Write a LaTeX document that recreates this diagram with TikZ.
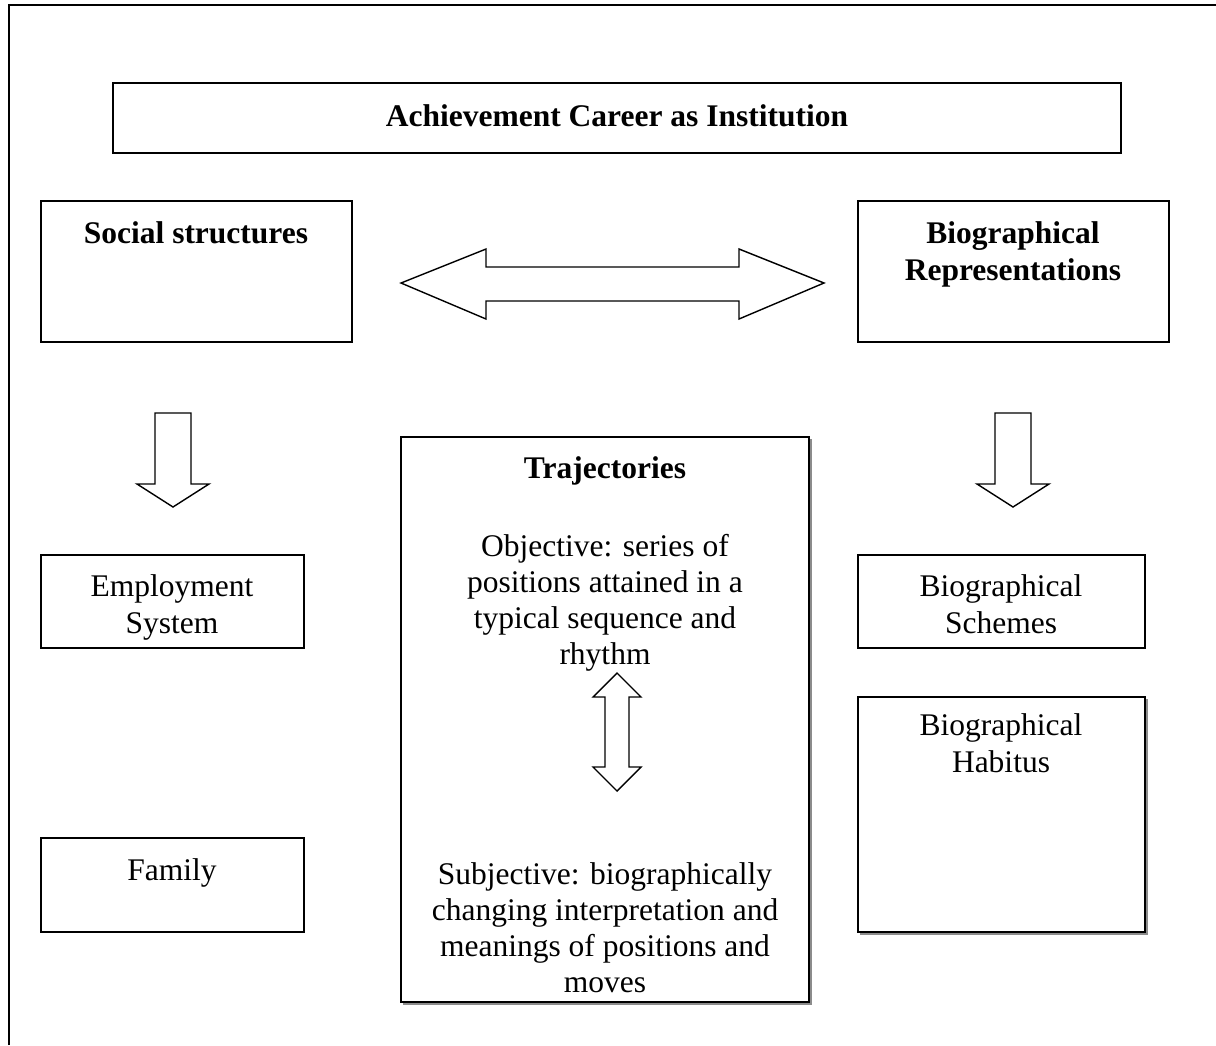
\documentclass[tikz,border=0pt]{standalone}
\usepackage{fontspec}
\setmainfont{Liberation Serif}
\usetikzlibrary{positioning}

\begin{document}
\begin{tikzpicture}[x=1pt,y=-1pt,font=\fontsize{31.5}{37}\selectfont,
  lbl/.style={align=center,anchor=north,inner sep=0pt},
  tight/.style={font=\fontsize{31.5}{36}\selectfont},
  box/.style={line width=1.4pt},
  shade/.style={line width=1.2pt,black!45},
  blk/.style={line width=1.4pt,fill=white,line join=miter}]
\useasboundingbox (0,0) rectangle (1216,1045);
% outer frame
\draw[line width=2pt] (9,1045)--(9,5)--(1216,5);
% boxes
\draw[box] (113,83) rectangle (1121,153);
\draw[box] (41,201) rectangle (352,342);
\draw[box] (858,201) rectangle (1169,342);
\draw[box] (41,555) rectangle (304,648);
\draw[box] (41,838) rectangle (304,932);
\draw[shade] (403,1004)--(811,1004)--(811,439);
\draw[box] (401,437) rectangle (809,1002);
\draw[box] (858,555) rectangle (1145,648);
\draw[shade] (860,934)--(1147,934)--(1147,699);
\draw[box] (858,697) rectangle (1145,932);
% block arrows
\draw[blk] (401,283)--(486,249)--(486,267)--(739,267)--(739,249)--(824,283)--(739,319)--(739,301)--(486,301)--(486,319)--cycle;
\foreach \x in {173,1013}{
  \draw[blk] (\x-18,413)--(\x+18,413)--(\x+18,484)--(\x+36,484)--(\x,507)--(\x-36,484)--(\x-18,484)--cycle;}
\draw[blk] (617,673)--(641,697)--(629,697)--(629,767)--(641,767)--(617,791)--(593,767)--(605,767)--(605,697)--(593,697)--cycle;
% labels
\node[lbl,font=\fontsize{31.5}{37}\selectfont\bfseries] (title) at (617,100) {\strut Achievement Career as Institution};
\node[lbl,font=\fontsize{31.5}{37}\selectfont\bfseries] (social) at (196,217) {\strut Social structures};
\node[lbl,font=\fontsize{31.5}{37}\selectfont\bfseries] (biorep) at (1013,217) {\strut Biographical\\Representations};
\node[lbl] (employ) at (172,570) {\strut Employment\\System};
\node[lbl] (family) at (172,854) {\strut Family};
\node[lbl] (schemes) at (1001,570) {\strut Biographical\\Schemes};
\node[lbl] (habitus) at (1001,709) {\strut Biographical\\Habitus};
\node[lbl,font=\fontsize{31.5}{37}\selectfont\bfseries] (traj) at (605,452) {\strut Trajectories};
\node[lbl,tight] (objective) at (605,531) {\strut Objective: series of\\positions attained in a\\typical sequence and\\rhythm};
\node[lbl,tight] (subjective) at (605,859) {\strut Subjective: biographically\\changing interpretation and\\meanings of positions and\\moves};
\end{tikzpicture}
\end{document}
